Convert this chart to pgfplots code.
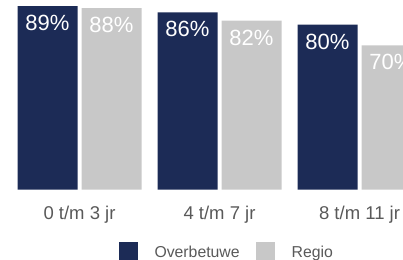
\documentclass[border=0pt]{standalone}
\usepackage{pgfplots}
\pgfplotsset{compat=1.18}
\usepackage{fontspec}
\setmainfont{Liberation Sans}
\definecolor{navy}{RGB}{28,43,86}
\definecolor{lgray}{RGB}{200,200,200}
\definecolor{tgray}{RGB}{89,89,89}
\begin{document}
\begin{tikzpicture}
\begin{axis}[
  at={(0pt,69.5pt)}, anchor=south west,
  scale only axis, width=403pt, height=189.5pt,
  xmin=-0.5679, xmax=2.3107, ymin=0, ymax=92,
  enlargelimits=false,
  ybar=4pt, bar width=60pt,
  axis line style={draw=none},
  major tick length=0pt,
  ytick=\empty,
  xtick={0,1,2},
  xticklabels={0 t/m 3 jr, 4 t/m 7 jr, 8 t/m 11 jr},
  xticklabel style={anchor=base, yshift=-29.5pt, font=\fontsize{18.5}{18.5}\selectfont, text=tgray},
  /pgf/number format/assume math mode=true,
  nodes near coords={\pgfmathprintnumber{\pgfplotspointmeta}\%},
  every node near coord/.append style={anchor=base, yshift=-24.5pt, font=\fontsize{22}{22}\selectfont, text=white},
  legend columns=2,
  legend style={at={(0.2953,-0.2757)}, anchor=north west, draw=none, fill=none,
    inner sep=0pt, outer sep=0pt, nodes={inner sep=0pt, font=\fontsize{15.8}{15.8}\selectfont, text=tgray},
    column sep=16.5pt},
]
\addplot[fill=navy, draw=none, legend image code/.code={\fill[navy] (0pt,-8pt) rectangle (19pt,11pt);}] coordinates {(0,89) (1,86) (2,80)};
\addplot[fill=lgray, draw=none, legend image code/.code={\fill[lgray] (0pt,-8pt) rectangle (19pt,11pt);}] coordinates {(0,88) (1,82) (2,70)};
\legend{Overbetuwe, Regio}
\end{axis}
\pgfresetboundingbox
\useasboundingbox (0,0) rectangle (403pt,259pt);
\end{tikzpicture}
\end{document}
